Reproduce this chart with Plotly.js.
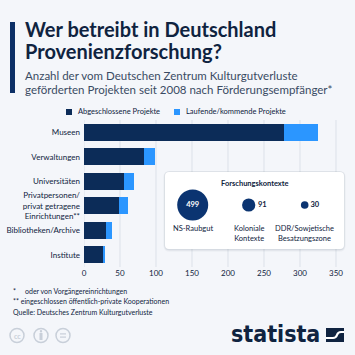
<!DOCTYPE html>
<html>
<head>
<meta charset="utf-8">
<script src="https://cdn.plot.ly/plotly-3.0.1.min.js"></script>
<style>
html,body{margin:0;padding:0;background:#f4f6fa;}
#chart{width:355px;height:355px;}
</style>
</head>
<body>
<div id="chart"></div>
<script>
// ---- data ----
const categories = ['Museen','Verwaltungen','Universitäten','Privatpersonen/<br>privat getragene<br>Einrichtungen**','Bibliotheken/Archive','Institute'];
const seriesNames = ['Abgeschlossene Projekte','Laufende/kommende Projekte'];
const completed = [278, 83, 56, 49, 30, 26];
const ongoing = [47, 15, 14, 12, 9, 3];
const xTicks = [0, 50, 100, 150, 200, 250, 300, 350];
const contextNames = ['NS-Raubgut','Koloniale<br>Kontexte','DDR/Sowjetische<br>Besatzungszone'];
const contextValues = [499, 91, 30];
const insetTitle = 'Forschungskontexte';
const titleLines = ['Wer betreibt in Deutschland','Provenienzforschung?'];
const subtitleLines = ['Anzahl der vom Deutschen Zentrum Kulturgutverluste','geförderten Projekten seit 2008 nach Förderungsempfänger*'];
const notes = ['oder von Vorgängereinrichtungen','eingeschlossen öffentlich-private Kooperationen'];
const source = 'Quelle: Deutsches Zentrum Kulturgutverluste';

// ---- geometry helpers (pixel -> paper) ----
const L = 84, R = 345, T = 120, B = 267;
const XMAX = 362.5;
const px = p => (p - L) / (R - L);
const py = p => (B - p) / (B - T);
const xPerUnit = (R - L) / XMAX;

const DARK = '#0c2c58', LIGHT = '#2b96ff', INK = '#0f2340', GRID = '#dce1e9', FONT = 'Lato, "Open Sans", sans-serif';

// inset panel in pixels
const bx0 = 165, bx1 = 344, by0 = 172, by1 = 249;
const bubbleCx = [192.7, 248.7, 304.7], bubbleCy = 205;
const xUnit = bubbleCx[1] - bubbleCx[0];
const x2range = [(bx0 - bubbleCx[0]) / xUnit, (bx1 - bubbleCx[0]) / xUnit];
const y2range = [-(by1 - bubbleCy), (bubbleCy - by0)];
const uy = p => bubbleCy - p;

function roundRectPaper(x0p, x1p, y0p, y1p, r) {
  const X = p => px(p), Y = p => py(p);
  return `M${X(x0p+r)},${Y(y0p)} L${X(x1p-r)},${Y(y0p)} Q${X(x1p)},${Y(y0p)} ${X(x1p)},${Y(y0p+r)} ` +
         `L${X(x1p)},${Y(y1p-r)} Q${X(x1p)},${Y(y1p)} ${X(x1p-r)},${Y(y1p)} ` +
         `L${X(x0p+r)},${Y(y1p)} Q${X(x0p)},${Y(y1p)} ${X(x0p)},${Y(y1p-r)} ` +
         `L${X(x0p)},${Y(y0p+r)} Q${X(x0p)},${Y(y0p)} ${X(x0p+r)},${Y(y0p)} Z`;
}

const traces = [
  {type:'bar', orientation:'h', name:seriesNames[0], y:categories, x:completed,
   marker:{color:DARK}, hoverinfo:'none'},
  {type:'bar', orientation:'h', name:seriesNames[1], y:categories, x:ongoing,
   marker:{color:LIGHT}, hoverinfo:'none'},
  {type:'scatter', mode:'markers+text', xaxis:'x2', yaxis:'y2',
   x:contextValues.map((v,i)=>i), y:contextValues.map(()=>0),
   text:contextValues.map(String),
   textposition:['middle center','middle right','middle right'],
   textfont:{family:FONT, size:7.5, weight:700, color:['#ffffff',INK,INK]},
   marker:{size:contextValues, sizemode:'area', sizeref:2*Math.max(...contextValues)/(31*31),
           color:'#0b3471', opacity:1, line:{width:0}},
   cliponaxis:false, hoverinfo:'none'}
];

const annotations = [];
const shapes = [];

// vertical gridlines at the x ticks, interrupted by the inset panel
xTicks.forEach(v => {
  const pxv = L + v * xPerUnit;
  const seg = (a, b) => shapes.push({type:'line', xref:'x', yref:'paper', x0:v, x1:v, y0:a, y1:b, layer:'below', line:{color:GRID, width:1}});
  if (pxv > bx0 && pxv < bx1) { seg(py(by0), 1); seg(0, py(by1)); }
  else seg(0, 1);
});

// inset panel + soft shadow
shapes.push({type:'path', xref:'paper', yref:'paper', layer:'below', path:roundRectPaper(bx0-1.5, bx1+1.5, by0-1, by1+2.5, 6), fillcolor:'rgba(15,35,64,0.05)', line:{width:0}});
shapes.push({type:'path', xref:'paper', yref:'paper', layer:'below', path:roundRectPaper(bx0-0.7, bx1+0.7, by0-0.4, by1+1.3, 5), fillcolor:'rgba(15,35,64,0.08)', line:{width:0}});
shapes.push({type:'path', xref:'paper', yref:'paper', layer:'below', path:roundRectPaper(bx0, bx1, by0, by1, 4), fillcolor:'#ffffff', line:{width:0}});

// title bar
shapes.push({type:'rect', xref:'paper', yref:'paper', x0:px(10), x1:px(15), y0:py(93), y1:py(22),
  fillcolor:'#0c2f66', line:{width:0}, layer:'above'});
// titles
annotations.push({text:'<b>'+titleLines[0]+'</b>', xref:'paper', yref:'paper', x:px(23), y:py(28.5), xanchor:'left', yanchor:'middle', showarrow:false, font:{family:FONT, size:20, color:INK}});
annotations.push({text:'<b>'+titleLines[1]+'</b>', xref:'paper', yref:'paper', x:px(23), y:py(50.5), xanchor:'left', yanchor:'middle', showarrow:false, font:{family:FONT, size:20, color:INK}});
annotations.push({text:subtitleLines[0], xref:'paper', yref:'paper', x:px(23), y:py(76), xanchor:'left', yanchor:'middle', showarrow:false, font:{family:FONT, size:11.5, color:'#3a4b63'}});
annotations.push({text:subtitleLines[1], xref:'paper', yref:'paper', x:px(23), y:py(89), xanchor:'left', yanchor:'middle', showarrow:false, font:{family:FONT, size:11.5, color:'#3a4b63'}});

// legend
shapes.push({type:'rect', xref:'paper', yref:'paper', x0:px(66), x1:px(72), y0:py(115), y1:py(109), fillcolor:DARK, line:{width:0}});
shapes.push({type:'rect', xref:'paper', yref:'paper', x0:px(174), x1:px(180), y0:py(115), y1:py(109), fillcolor:LIGHT, line:{width:0}});
annotations.push({text:seriesNames[0], xref:'paper', yref:'paper', x:px(76), y:py(112), xanchor:'left', yanchor:'middle', showarrow:false, font:{family:FONT, size:7.5, color:INK}});
annotations.push({text:seriesNames[1], xref:'paper', yref:'paper', x:px(184), y:py(112), xanchor:'left', yanchor:'middle', showarrow:false, font:{family:FONT, size:7.5, color:INK}});

// inset texts
annotations.push({text:'<b>'+insetTitle+'</b>', xref:'paper', yref:'paper', x:px((bx0+bx1)/2), y:py(183), xanchor:'center', yanchor:'middle', showarrow:false, font:{family:FONT, size:7.5, color:INK}});
contextNames.forEach((n,i)=>{
  annotations.push({text:n, xref:'x2', yref:'y2', x:i, y:uy(222), xanchor:'center', yanchor:'top', showarrow:false, font:{family:FONT, size:7.5, color:INK}});
});

// footnotes
annotations.push({text:'*', xref:'paper', yref:'paper', x:px(11), y:py(291), xanchor:'left', yanchor:'middle', showarrow:false, font:{family:FONT, size:7, color:INK}});
annotations.push({text:notes[0], xref:'paper', yref:'paper', x:px(23), y:py(291), xanchor:'left', yanchor:'middle', showarrow:false, font:{family:FONT, size:7, color:INK}});
annotations.push({text:'** '+notes[1], xref:'paper', yref:'paper', x:px(11), y:py(301), xanchor:'left', yanchor:'middle', showarrow:false, font:{family:FONT, size:7, color:INK}});
annotations.push({text:source, xref:'paper', yref:'paper', x:px(11), y:py(312), xanchor:'left', yanchor:'middle', showarrow:false, font:{family:FONT, size:7, color:INK}});

// cc icons
const ccX = [17, 41, 63], ccY = 335.5, ccR = 7;
ccX.forEach(cx=>{
  shapes.push({type:'circle', xref:'paper', yref:'paper', x0:px(cx-ccR), x1:px(cx+ccR), y0:py(ccY+ccR), y1:py(ccY-ccR), line:{color:'#c8cfd9', width:1.5}, fillcolor:'rgba(0,0,0,0)'});
});
annotations.push({text:'<b>cc</b>', xref:'paper', yref:'paper', x:px(17), y:py(335.5), xanchor:'center', yanchor:'middle', showarrow:false, font:{family:FONT, size:7, color:'#c8cfd9'}});
shapes.push({type:'circle', xref:'paper', yref:'paper', x0:px(39.8), x1:px(42.2), y0:py(332.5), y1:py(330.1), fillcolor:'#c8cfd9', line:{width:0}});
shapes.push({type:'rect', xref:'paper', yref:'paper', x0:px(39.5), x1:px(42.5), y0:py(340), y1:py(333), fillcolor:'#c8cfd9', line:{width:0}});
shapes.push({type:'rect', xref:'paper', yref:'paper', x0:px(60), x1:px(66), y0:py(334.5), y1:py(333.3), fillcolor:'#c8cfd9', line:{width:0}});
shapes.push({type:'rect', xref:'paper', yref:'paper', x0:px(60), x1:px(66), y0:py(337.7), y1:py(336.5), fillcolor:'#c8cfd9', line:{width:0}});

// statista logo
annotations.push({text:'<b>statista</b>', xref:'paper', yref:'paper', x:px(322), y:py(333.5), xanchor:'right', yanchor:'middle', showarrow:false, font:{family:'"Liberation Sans Narrow", "DejaVu Sans Condensed", sans-serif', size:23, color:INK}});
shapes.push({type:'rect', xref:'paper', yref:'paper', x0:px(326), x1:px(344), y0:py(342), y1:py(328), fillcolor:INK, line:{width:0}});
shapes.push({type:'path', xref:'paper', yref:'paper',
  path:`M${px(326)},${py(338)} L${px(333)},${py(338)} Q${px(336)},${py(338)} ${px(337)},${py(335)} Q${px(338)},${py(332)} ${px(341)},${py(332)} L${px(344)},${py(332)}`,
  line:{color:'#ffffff', width:2.2}, fillcolor:'rgba(0,0,0,0)'});

const layout = {
  width:355, height:355,
  margin:{l:L, r:355-R, t:T, b:355-B, pad:0},
  paper_bgcolor:'#f4f6fa', plot_bgcolor:'rgba(0,0,0,0)',
  barmode:'stack', bargap:0.3, showlegend:false,
  font:{family:FONT, color:INK},
  xaxis:{range:[0,XMAX], tickvals:xTicks, ticktext:xTicks.map(String), showgrid:false,
         zeroline:false, showline:false, ticks:'', tickfont:{family:FONT, size:8, color:INK}, fixedrange:true},
  yaxis:{type:'category', categoryarray:categories, categoryorder:'array', range:[5.5,-0.5], showgrid:false, zeroline:false,
         ticks:'', tickfont:{family:FONT, size:8, color:INK}, ticklabelstandoff:3, fixedrange:true},
  xaxis2:{domain:[px(bx0), px(bx1)], range:x2range, anchor:'y2', showgrid:false, zeroline:false, showticklabels:false, ticks:'', showline:false, fixedrange:true},
  yaxis2:{domain:[py(by1), py(by0)], range:y2range, anchor:'x2', showgrid:false, zeroline:false, showticklabels:false, ticks:'', showline:false, fixedrange:true},
  shapes:shapes, annotations:annotations
};

Plotly.newPlot('chart', traces, layout, {displayModeBar:false, staticPlot:true});
</script>
</body>
</html>
